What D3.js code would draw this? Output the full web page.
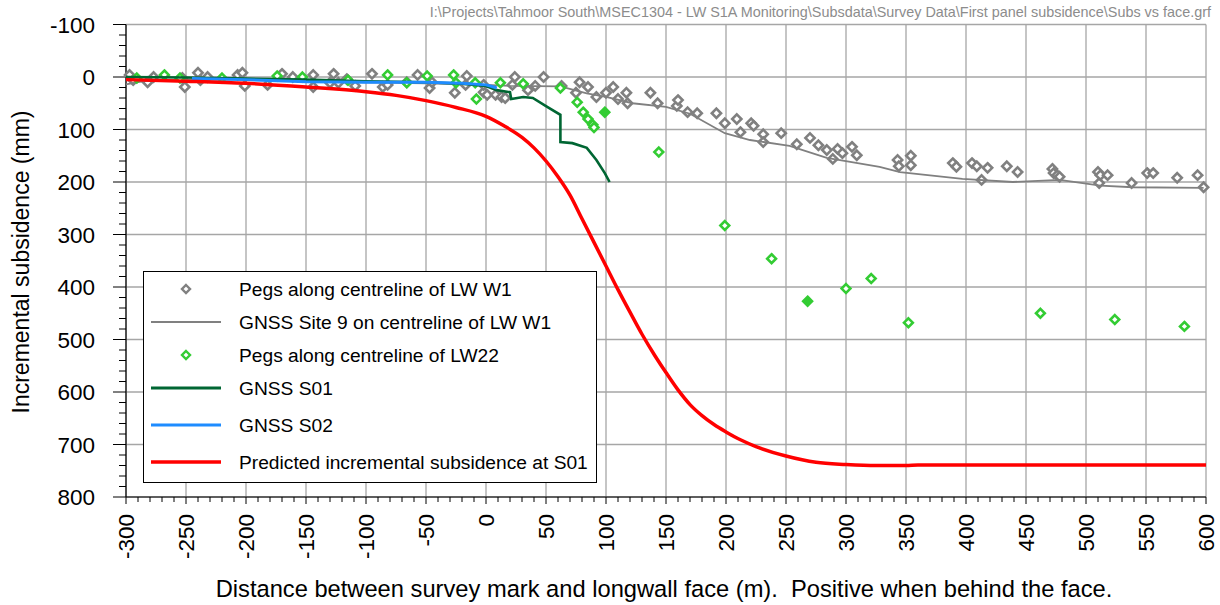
<!DOCTYPE html>
<html><head><meta charset="utf-8">
<script src="https://cdn.jsdelivr.net/npm/d3@7"></script>
<style>
body{margin:0;background:#fff;}
svg{display:block;font-family:Arial,"Liberation Sans",sans-serif;}
</style></head>
<body><svg id="c" width="1220" height="605"></svg>
<script>
// ---------- data ----------
const xTicks = [-300,-250,-200,-150,-100,-50,0,50,100,150,200,250,300,350,400,450,500,550,600];
const yTicks = [-100,0,100,200,300,400,500,600,700,800];

const pegsW1 = [[-297,-4],[-294,6],[-282,10],[-277,0],[-253,2],[-251,19],[-240,-8],[-238,6],[-232,0],[-207,-4],[-203,-8],[-201,17],[-182,15],[-170,-6],[-161,0],[-144,-4],[-144,19],[-130,11],[-127,-6],[-123,11],[-116,4],[-109,17],[-95,-6],[-86,19],[-82,15],[-66,10],[-57,-4],[-47,21],[-45,10],[-26,30],[-16,-2],[-17,15],[-2,29],[-2,15],[1,34],[8,34],[13,38],[16,40],[24,0],[22,15],[35,25],[41,17],[48,0],[63,17],[78,10],[75,30],[85,19],[92,38],[100,30],[106,19],[110,42],[117,30],[118,50],[137,30],[143,50],[159,55],[160,44],[168,67],[176,69],[192,69],[199,88],[209,80],[212,105],[221,88],[223,93],[231,109],[231,124],[246,107],[259,128],[270,116],[277,130],[284,139],[289,156],[293,137],[297,145],[305,133],[309,149],[343,158],[344,170],[354,150],[354,168],[389,164],[392,171],[405,164],[409,170],[413,196],[418,173],[434,170],[443,181],[472,175],[473,183],[476,187],[478,190],[510,181],[511,202],[512,187],[518,187],[538,202],[551,183],[556,183],[576,192],[593,187],[598,210]];

const gnssSite9 = [[-300,14],[-285,8],[-250,5],[-200,5],[-150,8],[-100,10],[-50,12],[0,15],[20,17],[62,18],[84,31],[100,38],[122,50],[150,57],[170,70],[199,107],[220,120],[253,131],[284,154],[328,171],[345,181],[397,194],[439,200],[478,196],[512,207],[539,210],[598,211]];

// [x, y, solid]
const pegsLW22 = [[-291,2,0],[-268,-4,0],[-255,2,0],[-220,2,0],[-174,-2,0],[-153,0,0],[-115,6,0],[-82,-4,0],[-66,11,0],[-49,-2,0],[-27,-4,0],[-25,11,0],[-9,11,0],[-8,42,0],[12,11,0],[31,13,0],[62,21,0],[76,48,0],[81,67,0],[85,80,0],[89,91,0],[90,96,0],[99,67,1],[144,143,0],[199,283,0],[238,346,0],[268,427,1],[300,403,0],[321,384,0],[352,468,0],[462,450,0],[524,462,0],[582,475,0]];

const gnssS01 = [[-300,0],[-250,1],[-200,3],[-150,5],[-100,8],[-50,10],[-20,13],[0,17],[9,25],[20,29],[21,42],[31,38],[39,40],[51,57],[62,72],[62,124],[72,126],[84,135],[92,158],[99,183],[103,200]];

const gnssS02 = [[-245,3],[-200,5],[-150,9],[-100,10],[-50,10],[-20,12],[0,15],[5,18],[9,21]];

const predicted = [[-300,5],[-250,8],[-200,12],[-150,19],[-100,28],[-75,35],[-50,45],[-25,58],[0,75],[15,93],[30,115],[40,135],[50,160],[60,190],[70,225],[80,270],[90,315],[100,360],[110,405],[120,448],[130,490],[140,528],[150,563],[160,596],[170,624],[180,645],[190,662],[200,676],[212,691],[225,704],[250,722],[275,734],[300,738],[325,740],[350,740],[360,739],[600,739]];

const legendLabels = ["Pegs along centreline of LW W1","GNSS Site 9 on centreline of LW W1","Pegs along centreline of LW22","GNSS S01","GNSS S02","Predicted incremental subsidence at S01"];
const headerText = "I:\\Projects\\Tahmoor South\\MSEC1304 - LW S1A Monitoring\\Subsdata\\Survey Data\\First panel subsidence\\Subs vs face.grf";

// ---------- chart ----------
const svg = d3.select("#c");
const L=126, R=1206, T=24.5, B=497;
const x = d3.scaleLinear().domain([-300,600]).range([L,R]);
const y = d3.scaleLinear().domain([-100,800]).range([T,B]);

const cGray="#808080", cGreen="#33cc33", cDark="#006633", cBlue="#1e8cff", cRed="#ff0000", cGrid="#a6a6a6";

// grid
const g = svg.append("g");
g.selectAll(".vg").data(xTicks).enter().append("line")
  .attr("x1",d=>x(d)).attr("x2",d=>x(d)).attr("y1",T).attr("y2",B)
  .attr("stroke",cGrid).attr("stroke-width",1.3);
g.selectAll(".hg").data(yTicks).enter().append("line")
  .attr("x1",L).attr("x2",R).attr("y1",d=>y(d)).attr("y2",d=>y(d))
  .attr("stroke",cGrid).attr("stroke-width",1.3);

// axes
const yMinor = d3.range(-100,801,20);
const xMinor = d3.range(-300,601,10);
const yAx = svg.append("g");
yAx.selectAll("line.mt").data(yMinor).enter().append("line")
  .attr("x1",d=> (d%100===0)? L-13 : L-7).attr("x2",L)
  .attr("y1",d=>y(d)).attr("y2",d=>y(d)).attr("stroke","#000").attr("stroke-width",1);
yAx.append("line").attr("x1",L).attr("x2",L).attr("y1",T).attr("y2",B).attr("stroke","#000").attr("stroke-width",1.2);
yAx.selectAll("text").data(yTicks).enter().append("text")
  .attr("x",95).attr("y",d=>y(d)).attr("dy","0.36em").attr("text-anchor","end")
  .attr("font-size",22.5).attr("fill","#000").text(d=>d);

const xAx = svg.append("g");
xAx.selectAll("line.mt").data(xMinor).enter().append("line")
  .attr("x1",d=>x(d)).attr("x2",d=>x(d)).attr("y1",B)
  .attr("y2",d=>(d%50===0)? B+7 : B+5).attr("stroke","#000").attr("stroke-width",1);
xAx.append("line").attr("x1",L).attr("x2",R).attr("y1",B).attr("y2",B).attr("stroke","#000").attr("stroke-width",1.2);
xAx.selectAll("text").data(xTicks).enter().append("text")
  .attr("transform",d=>`translate(${x(d)},514) rotate(-90)`)
  .attr("dy","0.36em").attr("text-anchor","end")
  .attr("font-size",22.5).attr("fill","#000").text(d=>d);

// titles
svg.append("text").attr("x",664).attr("y",597).attr("text-anchor","middle")
  .attr("font-size",23.7).attr("fill","#000").attr("xml:space","preserve")
  .text("Distance between survey mark and longwall face (m).  Positive when behind the face.");
svg.append("text").attr("transform","translate(29,262) rotate(-90)").attr("text-anchor","middle")
  .attr("font-size",23).attr("fill","#000").text("Incremental subsidence (mm)");
svg.append("text").attr("x",1211).attr("y",17).attr("text-anchor","end")
  .attr("font-size",14.4).attr("fill","#8c8c8c").text(headerText);

// marks
const diamond = (cx,cy,r)=>`M${cx},${cy-r}L${cx+r},${cy}L${cx},${cy+r}L${cx-r},${cy}Z`;
const line = d3.line().x(d=>x(d[0])).y(d=>y(d[1]));

svg.append("g").selectAll("path").data(pegsW1).enter().append("path")
  .attr("d",d=>diamond(x(d[0]),y(d[1]),4.6))
  .attr("fill","#fff").attr("stroke",cGray).attr("stroke-width",2.6);

svg.append("path").datum(gnssSite9).attr("d",line).attr("fill","none")
  .attr("stroke",cGray).attr("stroke-width",1.8);

svg.append("g").selectAll("path").data(pegsLW22).enter().append("path")
  .attr("d",d=>diamond(x(d[0]),y(d[1]),4.4))
  .attr("fill",d=>d[2]?cGreen:"#fff").attr("stroke",cGreen).attr("stroke-width",2.6);

svg.append("path").datum(gnssS01).attr("d",line).attr("fill","none")
  .attr("stroke",cDark).attr("stroke-width",2.6);
svg.append("path").datum(gnssS02).attr("d",line).attr("fill","none")
  .attr("stroke",cBlue).attr("stroke-width",3);
svg.append("path").datum(predicted).attr("d",d3.line().x(d=>x(d[0])).y(d=>y(d[1])).curve(d3.curveMonotoneX))
  .attr("fill","none").attr("stroke",cRed).attr("stroke-width",3.5);

// legend
const lg = svg.append("g");
lg.append("rect").attr("x",143.5).attr("y",271.5).attr("width",453).attr("height",211)
  .attr("fill","#fff").attr("stroke","#000").attr("stroke-width",1);
const rowsY = [289,322,355,388,425,462];
const styles = [
  {t:"m",c:cGray},{t:"l",c:cGray,w:2},{t:"m",c:cGreen},{t:"l",c:cDark,w:3},{t:"l",c:cBlue,w:3},{t:"l",c:cRed,w:3.5}
];
legendLabels.forEach((lab,i)=>{
  const s=styles[i], yy=rowsY[i];
  if(s.t==="m"){
    lg.append("path").attr("d",diamond(186,yy,4)).attr("fill","#fff").attr("stroke",s.c).attr("stroke-width",2.4);
  } else {
    lg.append("line").attr("x1",151).attr("x2",221).attr("y1",yy).attr("y2",yy).attr("stroke",s.c).attr("stroke-width",s.w);
  }
  lg.append("text").attr("x",239).attr("y",yy).attr("dy","0.36em").attr("font-size",19.2).attr("fill","#000").text(lab);
});
</script></body></html>
